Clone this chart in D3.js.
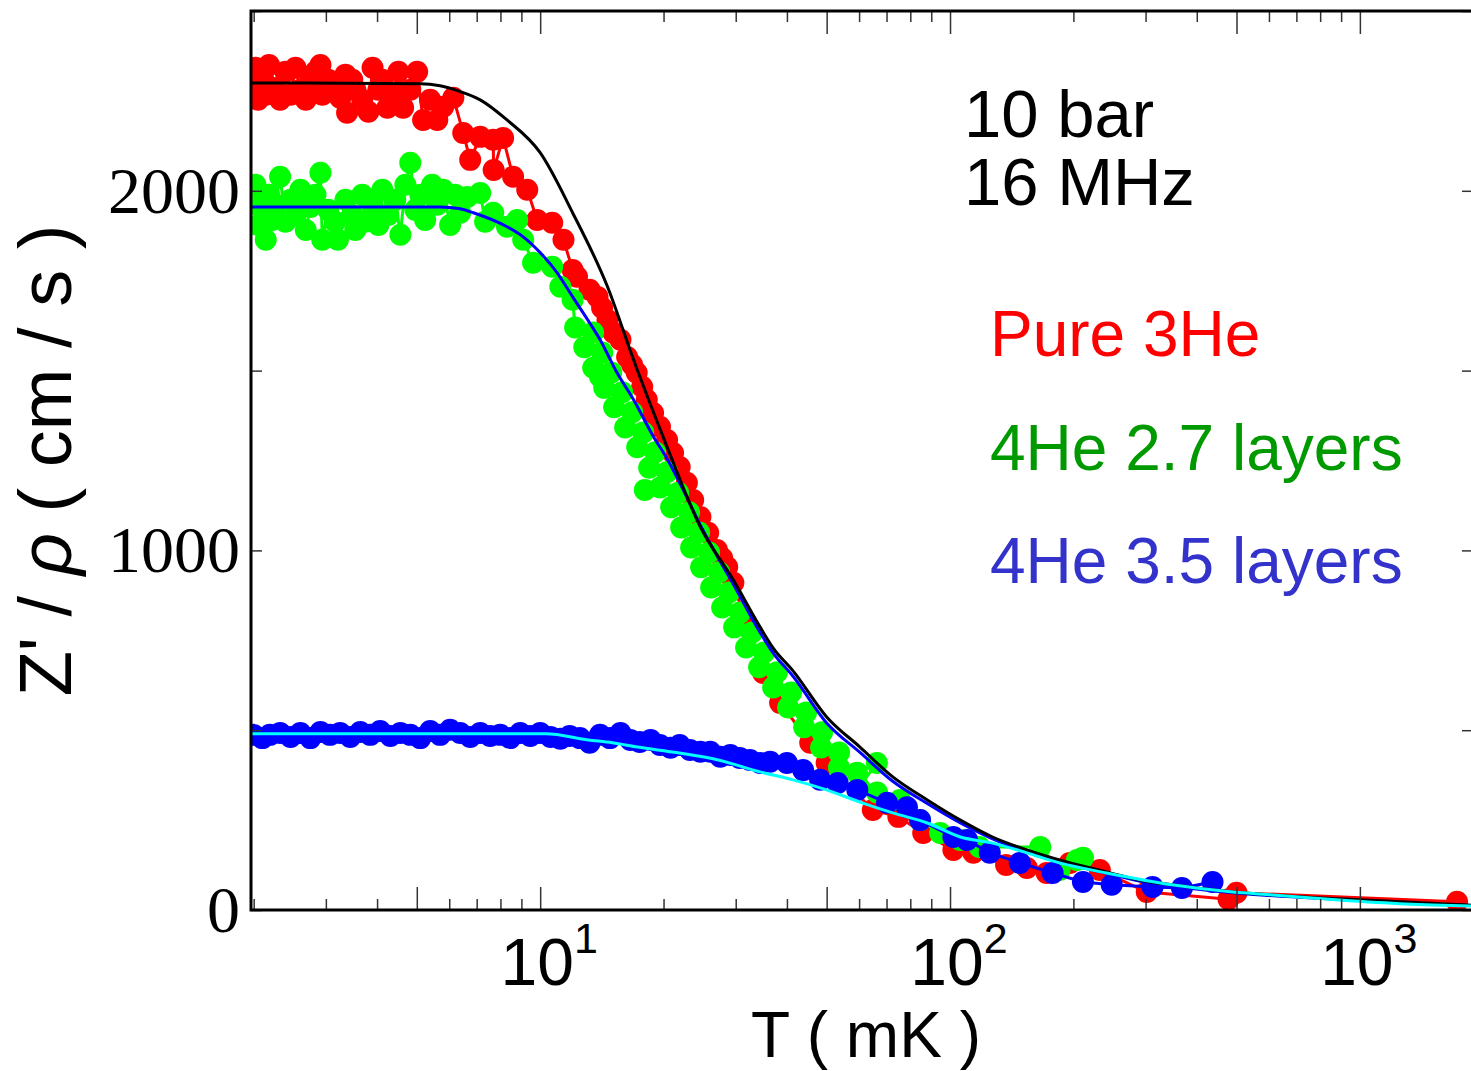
<!DOCTYPE html>
<html><head><meta charset="utf-8">
<script src="https://cdn.jsdelivr.net/npm/d3@7"></script>
<style>body{margin:0;background:#fff}svg{display:block}</style>
</head><body>
<svg id="chart" width="1471" height="1071"></svg>
<script>
// ---------- data (T in mK, Z'/rho in cm/s) ----------
const pureT = [2.0,2.02,2.05,2.10,2.14,2.18,2.26,2.32,2.39,2.46,2.53,2.60,2.68,2.75,2.83,2.91,2.94,3.04,3.16,3.25,3.35,3.38,3.48,3.54,3.68,3.81,3.90,4.03,4.12,4.24,4.43,4.51,4.63,4.82,5.01,5.18,5.39,5.61,5.80,6.14,6.49,6.75,7.14,7.68,7.70,8.12,8.59,9.30,9.83,10.7,11.4,12.0,12.3,13.2,13.8,14.16,14.6,15.1,15.7,16.3,16.76,17.2,17.74,18.2,18.86,19.6,20.4,21.1,21.9,22.8,23.62,24.6,25.7,27.0,27.79,28.6,29.6,32.0,35.0,38.5,45.6,50.0,64.8,74.8,86.0,101.9,114,137,154,172,196,232,302,478,500,1726];
const pureZ = [2281,2342,2253,2323,2267,2350,2286,2253,2331,2267,2342,2281,2253,2309,2331,2350,2267,2309,2281,2259,2323,2217,2309,2281,2253,2220,2342,2281,2309,2231,2267,2331,2231,2281,2331,2197,2253,2197,2234,2259,2161,2086,2150,2142,2058,2147,2039,2003,1919,1911,1864,1780,1761,1725,1705,1675,1641,1605,1586,1538,1516,1494,1455,1419,1382,1344,1307,1271,1232,1188,1140,1093,1049,1001,979,954,910,787,659,576,465,409,278,259,214,167,159,125,117,103,131,111,50,30,48,23];

const green27T = [2.0,2.02,2.05,2.10,2.14,2.18,2.22,2.26,2.32,2.39,2.46,2.53,2.60,2.68,2.75,2.83,2.91,2.94,3.04,3.16,3.21,3.35,3.48,3.54,3.68,3.74,3.90,4.03,4.12,4.26,4.43,4.56,4.69,4.82,4.96,5.10,5.24,5.45,5.61,5.80,6.03,6.20,6.38,6.64,7.14,7.34,7.68,8.30,8.79,9.09,9.61,10.7,11.2,12.0,
  12.17,13.46,12.81,14.17,13.47,14.90,14.0,14.33,15.85,15.15,16.77,16.12,17.84,17.25,19.08,18.45,20.42,18.0,19.62,21.71,20.87,23.09,22.08,24.42,23.35,25.83,24.70,27.33,26.13,28.90,27.80,30.75,29.73,32.89,31.80,35.18,34.21,37.84,37.01,40.95,40.27,44.55,44.06,48.74,48.46,53.61,53.60,59.30,66.3,59.99,66.37,
  75.5,84.5,94.6,106,118,166,185,204,211];
const green27Z = [1975,2017,1905,1947,1864,1989,1919,1961,2039,1914,1975,1933,2003,1891,1955,1989,2050,1864,1947,1914,1864,1975,1933,1891,1989,1914,1961,1905,2003,1933,1975,1878,2017,2078,1947,1989,1919,2017,1961,2003,1905,1989,1939,1983,1994,1914,1939,1900,1919,1864,1800,1789,1733,1697,
  1620,1606,1565,1550,1508,1495,1483,1452,1440,1398,1384,1342,1328,1287,1273,1230,1218,1168,1175,1160,1120,1106,1064,1050,1008,994,953,939,897,883,841,827,786,772,730,716,675,661,619,605,563,549,508,494,452,438,396,382,409,341,327,
  306,250,214,195,175,175,111,139,145];

const blue35T = [2.0,2.10,2.19,2.32,2.46,2.60,2.75,2.91,3.07,3.25,3.44,3.64,3.85,4.07,4.31,4.56,4.82,5.10,5.39,5.70,6.03,6.38,6.75,7.14,7.55,7.99,8.45,8.94,9.46,10,10.6,11.2,11.8,12.5,13.2,14.0,14.8,15.7,16.6,17.5,18.6,19.6,20.8,21.9,23.2,24.6,26.0,27.5,29.1,30.7,32.5,34.4,36.4,40.0,43.8,48.2,53.2,59.4,70.2,78.5,84.5,101.9,110,125,148,178,211,248,312,368,437];
const blue35Z = [487,478,487,492,481,492,478,495,487,492,481,495,487,498,484,492,487,478,498,487,501,492,481,492,484,487,478,492,484,492,481,476,484,478,465,487,478,492,473,467,473,459,451,459,445,440,440,426,431,423,417,409,412,409,389,362,353,334,298,286,250,203,195,159,131,103,78,70,64,61,78];

// fit curves
const fitPureT = [1.97,5.10,5.70,6.38,7.14,8.30,10,12.0,14.6,16.9,20.4,24.6,29.6,34.4,37.0,41.4,50.0,60.3,72.5,88.0,106,127,154,185,241,291,348,490,891,1888];
const fitPureZ = [2300,2298,2292,2276,2253,2197,2106,1939,1733,1530,1288,1065,918,787,729,665,537,453,370,306,250,203,167,139,106,83,70,50,31,13];
const fitGreenT = [1.97,5.70,6.38,6.87,8.30,9.09,10,11.0,12.0,13.2,14.0,15.4,16.9,18.9,20.4,22.3,24.6,27.0,29.6,34.4,37.0,41.4,50.0,60.3,72.5,88.0,106,127,154,185,241,291,348,490,891,1888];
const fitGreenZ = [1955,1955,1950,1939,1900,1872,1828,1772,1705,1633,1586,1494,1419,1316,1255,1170,1070,985,906,772,715,650,520,438,358,296,242,198,162,134,102,80,67,48,29,12];
const fitBlueT = [1.97,10.3,13.1,15.0,17.3,21.7,27.2,34.4,41.4,50.0,60.3,72.5,88.0,106,127,154,185,241,348,490,613,891,1295,1888];
const fitBlueZ = [490,490,473,465,453,437,417,384,362,334,300,270,242,203,186,159,131,103,70,50,42,28,17,11];

// ticks / labels
const xMajorTicks = [5,10,50,100,500,1000];
const xMinorTicks = [2,3,4,6,7,8,9,20,30,40,60,70,80,90,200,300,400,600,700,800,900];
const xLabelValues = [10,100,1000];
const xLabelExps = ["1","2","3"];
const yTicks = [0,500,1000,1500,2000,2500];
const yLabelValues = [0,1000,2000];
const legendLabels = ["Pure 3He","4He 2.7 layers","4He 3.5 layers"];
const legendColors = ["#ff0000","#009a00","#3333cc"];
const conditionLabels = ["10 bar","16 MHz"];

// ---------- drawing ----------
const svg = d3.select("#chart");
const SANS = "'Liberation Sans', Arial, sans-serif";
const SERIF = "'Liberation Serif', 'Times New Roman', serif";
const L = 251, R = 1473, T = 11, B = 910;
const x = d3.scaleLog().domain([1.97, 1888]).range([L, R]);
const y = d3.scaleLinear().domain([0, 2500]).range([B, T]);

const plot = svg.append("g");
plot.append("clipPath").attr("id","clip").append("rect").attr("x",L).attr("y",T).attr("width",R-L).attr("height",B-T);

function series(Ts, Zs, color, r) {
  const pts = Ts.map((t,i)=>[t, Zs[i]]);
  const g = plot.append("g").attr("clip-path","url(#clip)");
  g.append("path").datum(pts)
    .attr("d", d3.line().x(d=>x(d[0])).y(d=>y(d[1])))
    .attr("fill","none").attr("stroke",color).attr("stroke-width",3);
  g.selectAll("circle").data(pts).join("circle")
    .attr("cx",d=>x(d[0])).attr("cy",d=>y(d[1])).attr("r",r).attr("fill",color);
}
function fit(Ts, Zs, color) {
  const pts = Ts.map((t,i)=>[t, Zs[i]]);
  plot.append("path").datum(pts).attr("clip-path","url(#clip)")
    .attr("d", d3.line().x(d=>x(d[0])).y(d=>y(d[1])).curve(d3.curveMonotoneX))
    .attr("fill","none").attr("stroke",color).attr("stroke-width",3);
}
series(pureT, pureZ, "#ff0000", 11);
series(green27T, green27Z, "#00ff00", 11);
series(blue35T, blue35Z, "#0000ff", 11);
fit(fitGreenT, fitGreenZ, "#0000ff");
fit(fitPureT, fitPureZ, "#000000");
fit(fitBlueT, fitBlueZ, "#00ffff");

// axes ticks (inward)
function styleAxis(g){ g.select(".domain").remove(); g.selectAll("line").attr("stroke","#333").attr("stroke-width",1.5); g.selectAll("text").remove(); }
svg.append("g").attr("transform",`translate(0,${B})`).call(d3.axisBottom(x).tickValues(xMinorTicks).tickSize(-11)).call(styleAxis);
svg.append("g").attr("transform",`translate(0,${B})`).call(d3.axisBottom(x).tickValues(xMajorTicks).tickSize(-23)).call(styleAxis);
svg.append("g").attr("transform",`translate(0,${T})`).call(d3.axisTop(x).tickValues(xMinorTicks).tickSize(-11)).call(styleAxis);
svg.append("g").attr("transform",`translate(0,${T})`).call(d3.axisTop(x).tickValues(xMajorTicks).tickSize(-23)).call(styleAxis);
svg.append("g").attr("transform",`translate(${L},0)`).call(d3.axisLeft(y).tickValues(yTicks).tickSize(-11)).call(styleAxis);
svg.append("g").attr("transform",`translate(${R},0)`).call(d3.axisRight(y).tickValues(yTicks).tickSize(-11)).call(styleAxis);

// frame
svg.append("rect").attr("x",L).attr("y",T).attr("width",R-L).attr("height",B-T)
  .attr("fill","none").attr("stroke","#000").attr("stroke-width",3);

// x tick labels 10^n
xLabelValues.forEach((v,i)=>{
  const t = svg.append("text").attr("y",985).attr("font-family",SANS).attr("font-size",66).attr("fill","#000");
  const base = t.append("tspan").text("10");
  t.append("tspan").attr("font-size",43).attr("dy",-32).text(xLabelExps[i]);
  const w = base.node().getComputedTextLength();
  t.attr("x", x(v) - w/2 - 3);
});
// y tick labels
svg.append("g").selectAll("text").data(yLabelValues).join("text")
  .attr("x",240).attr("y",d=>y(d)).attr("dy","0.33em").attr("text-anchor","end")
  .attr("font-family",SERIF).attr("font-size",66).attr("fill","#000").text(d=>d);

// axis titles
svg.append("text").attr("x",(L+R)/2 + 4).attr("y",1057).attr("text-anchor","middle")
  .attr("font-family",SANS).attr("font-size",64).attr("fill","#000").text("T ( mK )");
const yt = svg.append("text").attr("transform",`translate(71,${(T+B)/2}) rotate(-90)`).attr("text-anchor","middle")
  .attr("font-family",SANS).attr("font-size",74).attr("fill","#000");
yt.append("tspan").text("Z' / ");
yt.append("tspan").attr("font-style","italic").text("ρ");
yt.append("tspan").text("  ( cm / s )");

// annotations
svg.append("g").selectAll("text").data(conditionLabels).join("text")
  .attr("x",964).attr("y",(d,i)=>137+i*68).attr("font-family",SANS).attr("font-size",67).attr("fill","#000").text(d=>d);
svg.append("g").selectAll("text").data(legendLabels).join("text")
  .attr("x",990).attr("y",(d,i)=>356+i*113.5).attr("font-family",SANS).attr("font-size",64)
  .attr("fill",(d,i)=>legendColors[i]).text(d=>d);
</script>
</body></html>
